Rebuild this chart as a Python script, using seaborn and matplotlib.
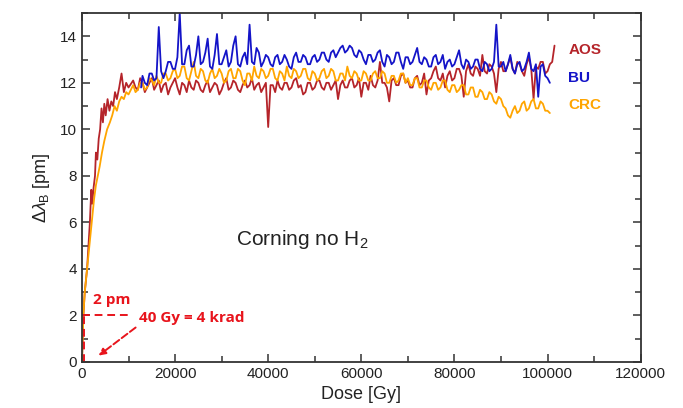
import matplotlib
matplotlib.use("Agg")
import matplotlib.pyplot as plt
import numpy as np
import seaborn as sns
from matplotlib.ticker import MultipleLocator

# doses in kGy, shift of Bragg wavelength in pm
# plateau sampling shared by the three gratings (11 ... 100.5 kGy)
plateau_dose = [11, 11.5, 12, 12.5, 13, 13.5, 14, 14.5, 15, 15.5, 16, 16.5, 17, 17.5, 18, 18.5, 19, 19.5, 20, 20.5,
                21, 21.5, 22, 22.5, 23, 23.5, 24, 24.5, 25, 25.5, 26, 26.5, 27, 27.5, 28, 28.5, 29, 29.5, 30, 30.5,
                31, 31.5, 32, 32.5, 33, 33.5, 34, 34.5, 35, 35.5, 36, 36.5, 37, 37.5, 38, 38.5, 39, 39.5, 40, 40.5,
                41, 41.5, 42, 42.5, 43, 43.5, 44, 44.5, 45, 45.5, 46, 46.5, 47, 47.5, 48, 48.5, 49, 49.5, 50, 50.5,
                51, 51.5, 52, 52.5, 53, 53.5, 54, 54.5, 55, 55.5, 56, 56.5, 57, 57.5, 58, 58.5, 59, 59.5, 60, 60.5,
                61, 61.5, 62, 62.5, 63, 63.5, 64, 64.5, 65, 65.5, 66, 66.5, 67, 67.5, 68, 68.5, 69, 69.5, 70, 70.5,
                71, 71.5, 72, 72.5, 73, 73.5, 74, 74.5, 75, 75.5, 76, 76.5, 77, 77.5, 78, 78.5, 79, 79.5, 80, 80.5,
                81, 81.5, 82, 82.5, 83, 83.5, 84, 84.5, 85, 85.5, 86, 86.5, 87, 87.5, 88, 88.5, 89, 89.5, 90, 90.5,
                91, 91.5, 92, 92.5, 93, 93.5, 94, 94.5, 95, 95.5, 96, 96.5, 97, 97.5, 98, 98.5, 99, 99.5, 100, 100.5]

aos_dose = [0, 0.3, 0.6, 1.1, 1.4, 1.7, 2.0, 2.2, 2.5, 2.8, 3.0, 3.3, 3.6, 3.9, 4.2, 4.5, 4.8, 5.1,
            5.5, 5.9, 6.3, 6.7, 7.1, 7.5, 8.0, 8.5, 9.0, 9.5, 10.0] + plateau_dose + [101, 101.5]
aos_shift = [0, 2.0, 3.0, 4.0, 5.0, 6.0, 7.4, 6.8, 7.5, 8.0, 9.0, 8.7, 9.6, 10.0, 10.9, 10.3, 11.1, 10.6,
             11.3, 10.8, 11.2, 11.0, 11.6, 11.3, 11.8, 12.4, 11.6, 12.0, 11.8,
             12.1, 11.8, 11.7, 12.2, 12.0, 11.6, 11.8, 12.0, 12.2, 11.7, 11.9, 12.1, 11.6, 11.9, 12.0, 11.5, 11.8, 12.0, 12.2, 11.8,
             11.5, 12.0, 11.9, 11.6, 12.1, 11.8, 11.7, 12.1, 12.0, 11.7, 11.6, 11.9, 12.1, 11.6, 11.8, 12.0, 11.9, 11.5, 11.7, 12.0,
             12.2, 11.7, 11.8, 12.1, 12.0, 11.7, 11.6, 11.9, 12.1, 11.8, 11.9, 12.2, 11.7, 11.9, 12.0, 11.6, 11.8, 12.0, 10.1, 11.9,
             11.9, 11.6, 12.1, 11.8, 11.7, 12.0, 12.0, 11.7, 11.8, 12.1, 12.2, 11.8, 11.9, 11.5, 11.6, 12.0, 12.0, 11.7, 11.8, 12.1,
             12.1, 11.8, 11.7, 12.0, 12.0, 11.7, 11.9, 12.1, 11.3, 11.9, 12.1, 11.8, 11.8, 12.1, 12.2, 11.8, 11.9, 12.2, 11.4, 12.0,
             12.0, 11.7, 12.3, 11.9, 11.8, 12.1, 12.9, 12.0, 12.0, 11.8, 11.2, 12.1, 12.2, 11.9, 11.9, 12.3, 12.4, 12.0, 12.1, 11.8,
             11.8, 12.2, 12.3, 11.9, 12.0, 12.4, 11.5, 12.1, 12.2, 12.5, 12.7, 12.2, 12.1, 12.4, 11.8, 12.3, 12.5, 12.1, 12.2, 12.6,
             12.6, 12.3, 11.4, 12.5, 12.8, 12.4, 12.3, 12.7, 12.6, 12.3, 13.2, 12.5, 12.4, 12.8, 12.7, 12.4, 11.6, 12.6, 12.9, 12.5,
             12.5, 12.8, 13.1, 12.6, 12.4, 12.9, 12.8, 12.5, 12.3, 12.8, 13.1, 12.6, 11.3, 12.7, 12.6, 12.9, 12.9, 12.4, 12.5, 12.8,
             12.9, 13.6]

crc_dose = [0, 0.3, 0.6, 1.1, 1.6, 2.1, 2.6, 3.0, 3.4, 3.8, 4.3, 4.8, 5.4, 6.0, 6.5, 7.0, 7.5, 8.0,
            8.5, 9.0, 9.5, 10.0] + plateau_dose
crc_shift = [0, 2.0, 3.0, 4.0, 5.0, 6.0, 7.0, 7.6, 8.0, 8.4, 9.0, 9.5, 10.0, 10.3, 10.6, 11.0, 10.8, 11.2,
             11.4, 11.3, 11.6, 11.5,
             11.9, 11.6, 11.7, 12.0, 12.0, 11.7, 11.8, 12.2, 12.1, 11.9, 12.3, 12.0, 12.0, 12.4, 12.4, 12.1, 12.2, 12.5, 12.6, 12.2,
             12.3, 12.7, 12.7, 12.2, 12.1, 12.5, 12.9, 12.3, 12.2, 12.6, 12.5, 12.1, 12.0, 12.4, 12.6, 12.2, 12.3, 12.6, 12.4, 12.0,
             12.1, 12.5, 12.6, 12.2, 12.2, 12.6, 12.5, 12.1, 11.9, 12.4, 12.4, 12.1, 12.7, 12.3, 12.2, 12.6, 12.5, 12.2, 12.3, 12.6,
             12.6, 12.2, 12.1, 12.5, 12.4, 12.1, 12.7, 12.3, 12.2, 12.6, 12.5, 12.2, 12.3, 12.6, 12.6, 12.2, 12.1, 12.5, 12.4, 12.1,
             12.2, 12.5, 12.6, 12.2, 12.3, 12.6, 12.5, 12.1, 12.1, 12.4, 12.4, 12.1, 12.7, 12.3, 12.2, 12.5, 12.4, 12.1, 12.1, 12.5,
             12.4, 12.1, 12.1, 12.4, 12.5, 12.2, 12.2, 12.5, 12.4, 12.0, 12.0, 12.3, 12.3, 12.0, 12.1, 12.4, 12.4, 12.0, 12.2, 11.9,
             11.9, 12.2, 12.2, 11.8, 11.8, 12.1, 12.1, 11.8, 11.7, 12.0, 12.0, 11.7, 11.8, 12.1, 12.1, 11.7, 11.6, 11.9, 11.9, 11.6,
             11.7, 11.9, 11.9, 11.5, 11.5, 11.8, 11.8, 11.4, 11.4, 11.7, 11.6, 11.3, 11.3, 11.6, 11.5, 11.2, 11.1, 11.4, 11.3, 11.0,
             10.9, 10.6, 10.5, 10.8, 11.0, 10.7, 10.8, 11.1, 11.2, 10.8, 10.9, 11.2, 11.3, 10.9, 10.9, 11.2, 11.1, 10.8, 10.8, 10.7]

bu_dose = [12.7] + plateau_dose[4:]
bu_shift = [11.8,
            12.3, 12.0, 11.9, 12.4, 12.4, 12.1, 12.2, 14.4, 12.5, 12.2, 12.5, 12.9, 12.9, 12.6, 12.6, 13.1,
            15.0, 12.8, 12.8, 13.4, 13.6, 12.7, 12.7, 13.2, 14.0, 12.8, 12.9, 13.3, 13.9, 12.7, 12.6, 13.2, 14.1, 12.8, 12.8, 13.1,
            13.4, 12.7, 12.9, 13.6, 14.0, 12.8, 12.7, 13.1, 13.3, 12.8, 14.5, 12.9, 12.8, 13.5, 13.3, 12.7, 12.9, 13.2, 13.1, 12.8,
            12.7, 13.1, 13.2, 12.8, 12.9, 13.2, 13.0, 12.7, 12.6, 13.1, 13.3, 12.9, 12.9, 13.2, 13.1, 12.8, 12.8, 13.1, 13.2, 12.9,
            13.0, 13.3, 13.3, 13.0, 12.9, 13.3, 13.4, 13.1, 13.3, 13.5, 13.6, 13.3, 13.4, 13.6, 13.5, 13.2, 13.1, 13.4, 13.3, 13.0,
            12.8, 13.2, 13.2, 12.9, 13.0, 13.3, 13.4, 12.9, 12.7, 13.2, 13.1, 12.8, 12.9, 13.3, 13.3, 12.9, 12.6, 13.1, 13.1, 12.8,
            12.9, 13.2, 13.5, 12.9, 12.8, 13.1, 13.0, 12.7, 12.7, 13.1, 13.2, 12.8, 12.9, 13.2, 12.6, 12.9, 13.0, 12.7, 12.8, 13.1,
            13.4, 12.8, 12.6, 13.0, 12.9, 12.6, 12.7, 13.0, 13.0, 12.6, 12.5, 12.9, 12.8, 12.5, 12.6, 12.9, 14.5, 12.7, 12.7, 12.9,
            12.5, 12.8, 13.2, 12.6, 12.4, 12.8, 12.9, 12.5, 12.6, 12.9, 13.3, 12.6, 12.5, 12.8, 11.4, 12.7, 12.8, 12.3, 12.2, 12.0]

series_names = ["AOS", "BU", "CRC"]
series_colors = ["#b5242a", "#1414c8", "#ffa500"]
label_pos_y = [13.4, 12.2, 11.05]

sns.set_theme(style="ticks")
plt.rcParams["font.family"] = ["Liberation Sans", "DejaVu Sans"]
plt.rcParams["mathtext.fontset"] = "custom"
plt.rcParams["mathtext.rm"] = "Liberation Sans"
plt.rcParams["mathtext.it"] = "Liberation Sans:italic"

fig = plt.figure(figsize=(6.83, 4.08), dpi=100)
ax = fig.add_axes([0.120, 0.113, 0.818, 0.855])

sns.lineplot(x=np.array(aos_dose) * 1000, y=aos_shift, color=series_colors[0], lw=1.3, ax=ax)
sns.lineplot(x=np.array(crc_dose) * 1000, y=crc_shift, color=series_colors[2], lw=1.3, ax=ax)
sns.lineplot(x=np.array(bu_dose) * 1000, y=bu_shift, color=series_colors[1], lw=1.3, ax=ax)

ax.set_xlim(0, 120000)
ax.set_ylim(0, 15)
ax.xaxis.set_major_locator(MultipleLocator(20000))
ax.xaxis.set_minor_locator(MultipleLocator(10000))
ax.yaxis.set_major_locator(MultipleLocator(2))
ax.yaxis.set_minor_locator(MultipleLocator(1))
ax.tick_params(which="both", direction="in", top=True, right=True, colors="#333333",
               labelcolor="#222222", labelsize=11)
ax.tick_params(which="major", length=6, width=1.1)
ax.tick_params(which="minor", length=4, width=1.1)
for sp in ax.spines.values():
    sp.set_color("#333333")
    sp.set_linewidth(1.3)

ax.set_xlabel("Dose [Gy]", fontsize=13, color="#222222", labelpad=4)
ax.set_ylabel(r"$\Delta\lambda_{\rm B}$ [pm]", fontsize=13, color="#222222", labelpad=6)

for name, c, yy in zip(series_names, series_colors, label_pos_y):
    ax.text(104500, yy, name, color=c, fontsize=11, fontweight="bold", va="center", ha="left")

ax.text(33000, 5.25, r"Corning no H$_2$", fontsize=15, color="#222222", va="center", ha="left")

# red annotation
red = "#e8141c"
ax.plot([0, 10500], [2, 2], ls="--", color=red, lw=1.4, dashes=(4, 2.5), clip_on=False)
ax.plot([430, 430], [0, 2], ls="--", color=red, lw=1.4, dashes=(4, 2.5))
ax.annotate("", xy=(3100, 0.2), xytext=(12000, 1.55),
            arrowprops=dict(arrowstyle="-|>", color=red, lw=1.4, ls="--", mutation_scale=10))
ax.text(2300, 2.65, "2 pm", color=red, fontsize=11, fontweight="bold", va="center",
        family=["Open Sans", "DejaVu Sans"])
ax.text(12200, 1.9, "40 Gy = 4 krad", color=red, fontsize=11, fontweight="bold", va="center",
        family=["Open Sans", "DejaVu Sans"])

fig.savefig("out.png", dpi=100)
